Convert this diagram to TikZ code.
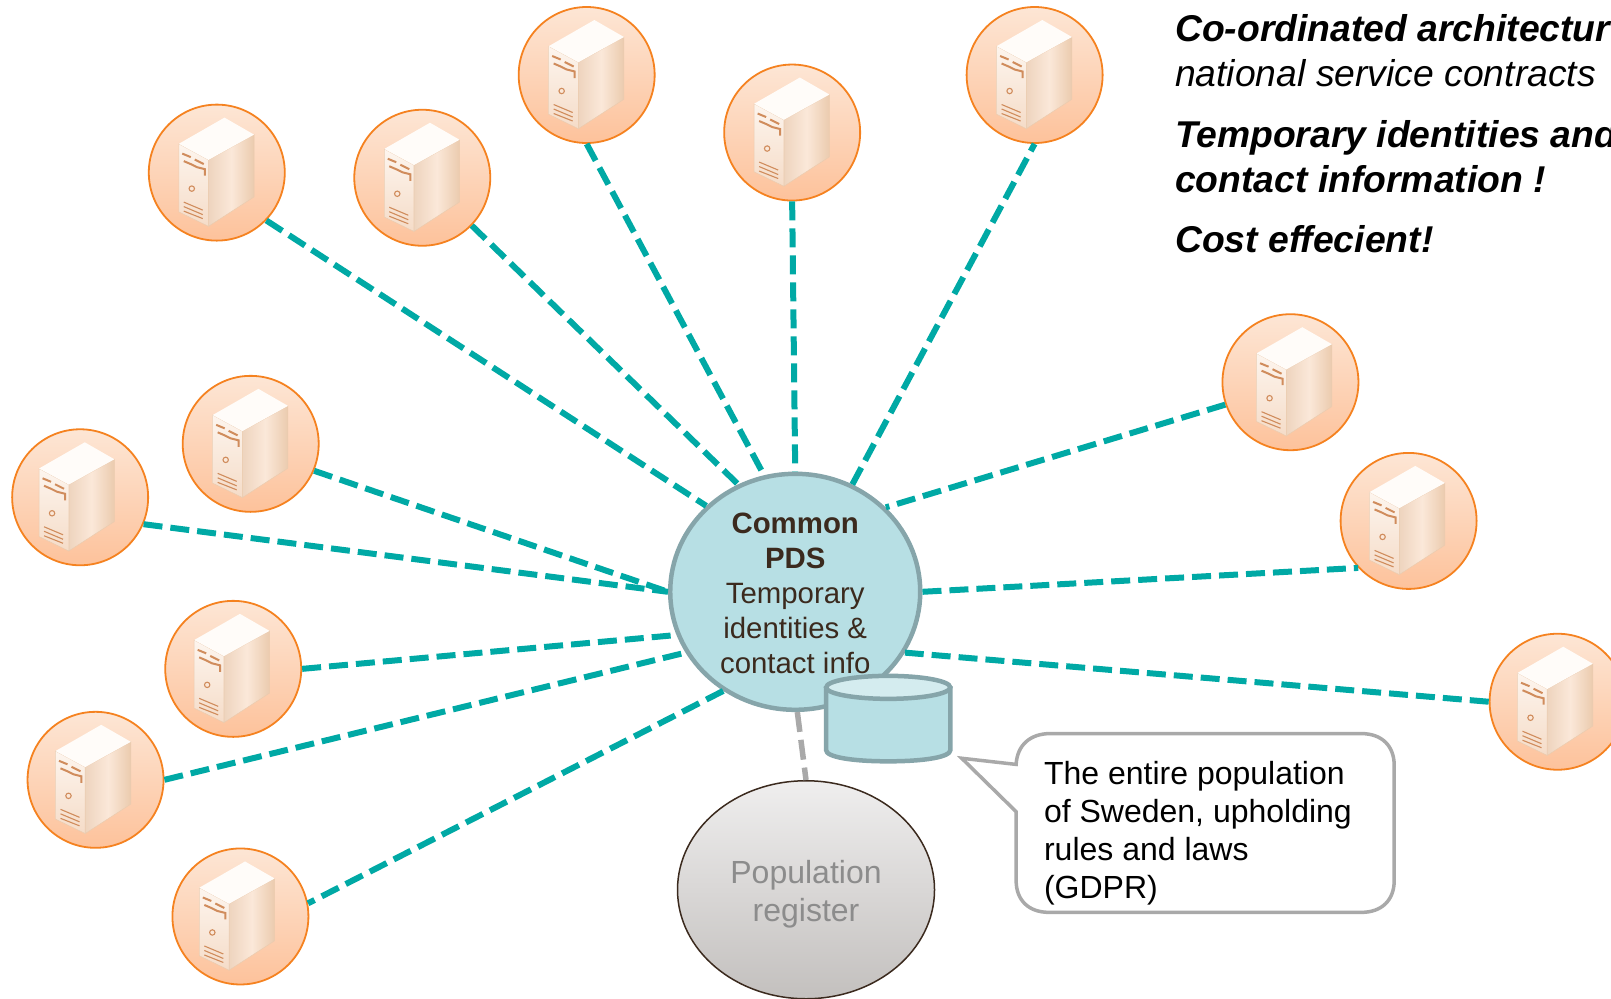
\documentclass[tikz,border=0pt]{standalone}
\usepackage{fontspec}
\setmainfont{Liberation Sans}
\usetikzlibrary{shapes.geometric}
\definecolor{tealline}{HTML}{00A9A5}
\definecolor{orangeline}{HTML}{F58220}
\definecolor{hubfill}{HTML}{B7DFE4}
\definecolor{hubline}{HTML}{86A5AA}
\definecolor{hubtext}{HTML}{3B2A1E}
\definecolor{callgrey}{HTML}{A9A9A9}
\definecolor{slot}{HTML}{D08C5C}
\definecolor{orangetop}{HTML}{FDE6D5}
\definecolor{orangebot}{HTML}{FDC29B}
\definecolor{popA}{HTML}{EFEEEE}
\definecolor{popB}{HTML}{C3C0BE}
\definecolor{sideL}{HTML}{EED4BE}
\definecolor{sideM}{HTML}{FBE8D9}
\definecolor{sideR}{HTML}{EBCBAE}
\definecolor{frontT}{HTML}{FDF5EE}
\definecolor{frontB}{HTML}{F5DCC8}
\definecolor{topface}{HTML}{FFFCF9}
\tikzset{
  srvdisc/.style={circle,draw=orangeline,line width=1.8pt,minimum size=136pt,inner sep=0pt,top color=orangetop,bottom color=orangebot},
  link/.style={draw=tealline,line width=6pt,dash pattern=on 19pt off 8pt},
  greylink/.style={draw=callgrey,line width=5.5pt,dash pattern=on 20pt off 8pt},
  hubnode/.style={ellipse,draw=hubline,fill=hubfill,line width=4.5pt,minimum width=250pt,minimum height=236pt,inner sep=0pt},
  popnode/.style={ellipse,draw=hubtext,line width=1.5pt,top color=popA,bottom color=popB,minimum width=257pt,minimum height=218pt,inner sep=0pt},
  slotline/.style={draw=slot,line width=1.1pt},
  labelbig/.style={font=\fontsize{37.3}{45.2}\selectfont,align=left,anchor=north west,inner sep=0pt,text=black},
  labelmid/.style={font=\fontsize{32}{38.2}\selectfont,inner sep=0pt},
  hubtextst/.style={font=\fontsize{29.4}{35}\selectfont,align=center,inner sep=0pt,text=hubtext},
}
% name, disc x, disc y, x offset of the server drawing
\newcommand{\srvbox}[4]{%
  \node[srvdisc] (#1) at (#2,#3) {};
  \begin{scope}[shift={(#2+#4,#3)},x=1pt,y=-1pt]
    \shade[left color=sideL,right color=sideR,middle color=sideM,draw=sideR,line width=.5pt]
      (-8.3,-12.7) -- (37.3,-38) -- (37.3,24.3) -- (-8.3,53.7) -- cycle;
    \shade[top color=frontT,bottom color=frontB,draw=sideR,line width=.5pt]
      (-38,-28.8) -- (-8.3,-12.7) -- (-8.3,53.7) -- (-38,39.3) -- cycle;
    \fill[topface] (7.7,-55) -- (37.3,-38) -- (-8.3,-12.7) -- (-38,-28.8) -- cycle;
    \draw[slotline,line width=2pt] (-34.5,-19) -- (-26,-15.5) (-22,-13) -- (-13,-8.5);
    \draw[slotline,line width=2pt] (-33,-11.5) -- (-26,-8.5) -- (-20,-5.5) -- (-12,-3.5) -- (-12,3);
    \draw[slotline,fill=sideM] (-25,16) circle (2.7pt);
    \draw[slotline] (-33,29.5) -- (-14,37.5) (-33,34) -- (-14,42) (-33,38.5) -- (-14,46);
  \end{scope}}
\begin{document}
\begin{tikzpicture}[x=1.02742pt,y=-1.02742pt]
\useasboundingbox (0,0) rectangle (1568,971.37);
\clip (0,0) rectangle (1568,971.37);
\node[popnode] (pop) at (784.5,866) {};
\node[hubnode] (hub) at (774,576) {};
\srvbox{s1}{211}{168}{0}
\srvbox{s2}{411}{173}{0}
\srvbox{s3}{571}{73}{0}
\srvbox{s4}{771}{129}{0}
\srvbox{s5}{1007}{73}{0}
\srvbox{s6}{1256}{372}{4}
\srvbox{s7}{1371}{507}{-1}
\srvbox{s8}{1516}{683}{-2}
\srvbox{s9}{244}{432}{0}
\srvbox{s10}{78}{484}{-3}
\srvbox{s11}{227}{651}{-1}
\srvbox{s12}{93}{759}{-2}
\srvbox{s13}{234}{892}{-3}
\path[link] (s1.-44.4) -- (hub.136.7);
\path[link] (s2.-44.4) -- (hub.118.6);
\path[link] (s3.-90) -- (hub.105.8);
\path[link] (s4.-90) -- (hub.90);
\path[link] (hub.62.5) -- (s5.-90);
\path[link] (s6.199.8) -- (hub.43.6);
\path[link] (hub.0) -- (s7.223);
\path[link] (s8.180) -- (hub.-29.1);
\path[link] (s9.-23.9) -- (hub.180);
\path[link] (s10.-23.4) -- (hub.180);
\path[link] (s11.0) -- (hub.200.6);
\path[link] (s12.0) -- (hub.209.6);
\path[link] (hub.234.3) -- (s13.11.6);
\path[greylink] (hub.-89) -- (pop.90);
\node[hubtextst] (hubt) at (774,578) {\textbf{Common}\\\textbf{PDS}\\Temporary\\identities \&\\contact info};
% cylinder
\path[fill=hubfill,draw=hubline,line width=4.5pt] (804,670) -- (804,730) .. controls (804,737) and (830,741) .. (864.5,741) .. controls (899,741) and (925,737) .. (925,730) -- (925,670) -- cycle;
\node[ellipse,draw=hubline,line width=4.5pt,fill=hubfill!60!white,minimum width=124pt,minimum height=23pt,inner sep=0pt] (cyl) at (864.5,669) {};
\node[labelmid,text=black!45,align=center] (popt) at (784.5,870) {Population\\register};
% callout
\path[draw=callgrey,line width=3.5pt,fill=white,line join=miter] (936,738) -- (989,744)
  .. controls (990,725) and (1003,714) .. (1022,714) -- (1325,714)
  .. controls (1345,714) and (1357,726) .. (1357,745) -- (1357,857)
  .. controls (1357,876) and (1345,888) .. (1325,888) -- (1021,888)
  .. controls (1001,888) and (989,876) .. (989,857) -- (989,790) -- cycle;
\node[labelmid,align=left,anchor=west,text=black] (callt) at (1016,811) {The entire population\\of Sweden, upholding\\rules and laws\\(GDPR)};
\node[labelbig] (t1) at (1143.5,14) {\textbf{\textit{Co-ordinated architecture}}\\\textit{national service contracts}};
\node[labelbig] (t2) at (1143.5,117) {\textbf{\textit{Temporary identities and}}\\\textbf{\textit{contact information !}}};
\node[labelbig] (t3) at (1143.5,219) {\textbf{\textit{Cost effecient!}}};
\end{tikzpicture}
\end{document}
